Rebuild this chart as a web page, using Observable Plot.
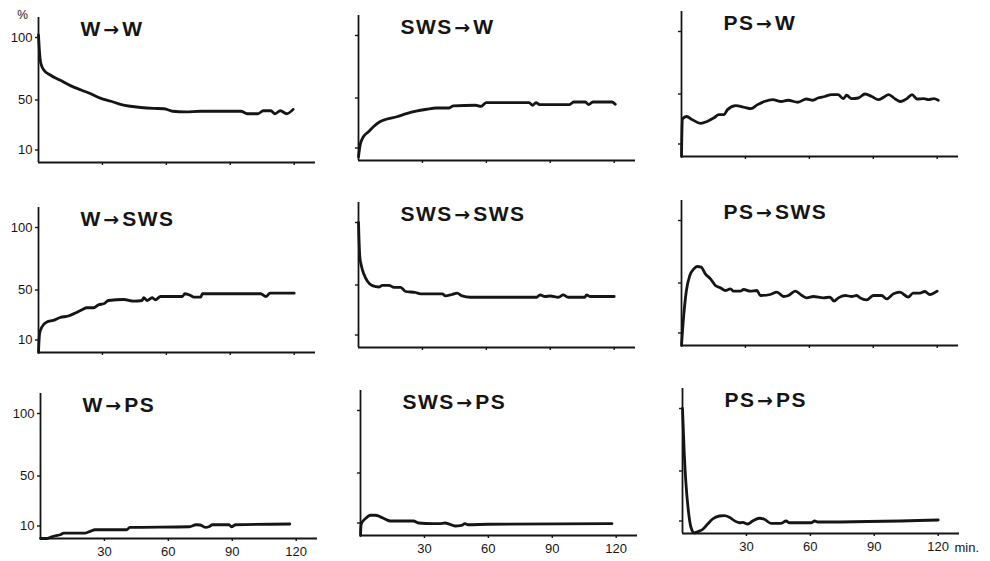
<!DOCTYPE html>
<html>
<head>
<meta charset="utf-8">
<script src="https://cdn.jsdelivr.net/npm/d3@7"></script>
<script src="https://cdn.jsdelivr.net/npm/@observablehq/plot@0.6"></script>
<style>
  html, body { margin: 0; padding: 0; background: #ffffff; }
  #chart { position: relative; width: 990px; height: 561px; overflow: hidden; background: #ffffff; }
  #chart svg { position: absolute; overflow: visible; }
</style>
</head>
<body>
<div id="chart"></div>
<script>
// ---- data (minutes, percent) ----
const titles = ["W→W", "SWS→W", "PS→W", "W→SWS", "SWS→SWS", "PS→SWS", "W→PS", "SWS→PS", "PS→PS"];
const yTicks = [10, 50, 100];
const xTicks = [30, 60, 90, 120];
const unitLabel = "%";
const timeLabel = "min.";

const W_W = [[0,102],[0.5,88],[1,80],[2.5,74],[5.5,70],[10,66],[15,61.5],[20,58],[24.5,55],[29,51.5],[34,49],[38.5,46.5],[43,45],[48,44],[54,43.3],[59,43],[63,41],[69,40.5],[76,41],[85,41],[95,41],[98,39],[103,39],[105.5,41.4],[109,41.4],[111,39],[113.5,41.4],[116.5,39],[119.5,42.5]];
const SWS_W = [[0,3],[0.8,12.5],[2.3,19],[4.7,23],[7,27],[10,31],[13,33],[18,35],[22.5,37.5],[27,39.5],[32,41],[36.5,42],[42.5,42],[44.5,43.7],[55,44.2],[57.5,43.3],[60,46.3],[80,46.3],[81.8,44.2],[83.3,46.3],[85,44.7],[99,44.7],[101,46.8],[106.5,46.8],[108,44.7],[110,46.8],[119,46.8],[120.5,45]];
const PS_W = [[0,0],[0.4,30],[2.4,32],[5,29.5],[9,26.5],[12,28],[15.3,31],[17.6,33.5],[20,33.5],[21.6,37.5],[25.5,40.7],[29.4,39.4],[32.6,38.3],[35.7,41.5],[38.9,44],[42.8,45.5],[46.8,44],[50,45],[54.6,43.4],[58.6,46],[61.7,45],[64,46.8],[67.2,48],[70.4,49.5],[73.5,49.5],[75.9,46.3],[77.5,49],[79.8,46.3],[83,46.8],[86.1,50],[89.3,48],[92.4,45.5],[94.8,47.3],[97.2,49.5],[100.3,46],[102.7,44],[105.8,46.3],[108.2,49.5],[110.6,46],[113.7,46.3],[116,45.5],[118.4,46.3],[120.5,45]];
const W_SWS = [[0,0],[0.5,15],[1.6,20.4],[3.9,24.4],[7,25.7],[10.2,28],[14,29.2],[17.3,31.6],[20.4,34.2],[22.7,35.8],[25.9,35.8],[28.2,38.2],[30.6,39],[32.9,41.6],[40,42.4],[44.7,41.1],[48.6,41.6],[49.4,43.8],[51,41.6],[53.3,43.8],[54.9,42.2],[57.3,44.8],[67.5,44.8],[68.7,47],[71.4,45.6],[72.9,44.3],[76.1,44.3],[76.9,47],[104.3,47],[106.7,44.8],[108.7,47.5],[120,47.5]];
const SWS_SWS = [[0,100],[0.6,73],[1.4,65],[2.6,58.4],[4.2,53],[6.5,49.5],[9.7,48.4],[11.2,49.7],[14.3,49.7],[16.7,48.1],[19.8,48.1],[22.1,44.8],[26.8,44],[29.1,42.9],[39.3,42.9],[40.8,41.3],[43.9,42.4],[46.3,43.5],[48.6,41.3],[52.5,40.2],[83.6,40.2],[85.2,42.1],[87.5,40.8],[90,41.2],[93.8,40.2],[96.1,42.1],[98.4,40.2],[106.2,40.2],[107,42.1],[108.6,40.8],[120,40.8]];
const PS_SWS = [[0,0],[1.1,25],[2.3,44],[3.9,56],[5.8,61.3],[7.3,63.2],[9.2,62.7],[11.2,57.3],[13.6,53.3],[15.9,48],[18.3,46.1],[20.6,44],[22.9,45.3],[24.5,43.5],[27.6,43.5],[29.2,44.8],[32.3,43.5],[35.4,44],[37,40],[41.7,40.8],[44.8,42.7],[47.9,39.2],[50.2,40],[53.4,43.5],[56.5,40],[58.8,38.1],[61.9,39.2],[66.6,38.1],[69.7,38.7],[71.6,35.5],[73.6,38.1],[76.8,40],[79.9,39.2],[82.2,40],[83.8,38.1],[86.9,36.5],[90,40],[93.9,40],[96.3,37.3],[99.4,41.3],[102.5,42.7],[106.4,38.7],[108.7,41.9],[111.9,41.9],[114.2,43.2],[116.5,40.8],[120,43.5]];
const W_PS = [[0,0],[3,0],[4.7,1],[7,2.2],[9.3,3],[10.9,4.3],[21,4.3],[23.3,5.7],[25.6,7],[40.4,7],[41.9,8.9],[69.9,9.4],[73,11],[75,10.8],[77.3,8.9],[79,9.4],[80.7,11],[88.5,11],[89.6,9.4],[91.6,11],[117,11.6]];
const SWS_PS = [[0,0],[0.3,9],[2.3,13.5],[4.7,16.2],[7,16.2],[9.3,14.9],[11.7,13],[14,11.6],[24.9,11.6],[27.2,10],[34.2,9.5],[37,9.5],[39.7,10],[42,8.9],[44.3,7.6],[47.4,8.1],[49,9.5],[50.5,8.6],[60,9],[118,9.5]];
const PS_PS = [[0,100],[0.8,65],[1.6,40.5],[2.7,19],[3.9,5.4],[5.5,0.5],[7.1,1.4],[9.4,3.2],[11.8,7.6],[14.1,11.6],[17.3,14],[19.6,14.3],[22,13],[24.3,10.3],[26.7,8.6],[28.3,8.9],[30.6,7.6],[32.9,10],[36.1,12.2],[38.4,11.4],[41.6,8.1],[46.3,8.1],[48.6,10],[50.2,8.6],[60.4,8.6],[62,10],[63.5,9.2],[120,10.8]];

const series = [W_W, SWS_W, PS_W, W_SWS, SWS_SWS, PS_SWS, W_PS, SWS_PS, PS_PS];

// ---- layout (panel origin in page pixels) ----
const origins = [
  [38,162],[358,160],[681,156],
  [38,352],[358,347],[681,345],
  [40,538],[360,535],[682,533]
];
const mL = 36, mR = 32, mT = 12, mB = 24, W = 277, H = 145;
const ink = "#151515";
const font = "'Liberation Sans', Arial, Helvetica, sans-serif";

const chart = document.getElementById("chart");
series.forEach((data, i) => {
  const col = i % 3, row = Math.floor(i / 3);
  const marks = [
    Plot.ruleY([0], {stroke: ink, strokeWidth: 1.8}),
    Plot.ruleX([0], {stroke: ink, strokeWidth: 1.8}),
    Plot.axisY({ticks: yTicks, tickSize: 3, tickPadding: 3, stroke: ink, strokeWidth: 1.4,
                fill: col === 0 ? ink : "none", fontSize: 13, label: null}),
    Plot.axisX({ticks: xTicks, tickSize: 3, tickPadding: 5, stroke: ink, strokeWidth: 1.4,
                fill: row === 2 ? ink : "none", fontSize: 13, label: null}),
    Plot.line(data, {x: d => d[0], y: d => d[1], stroke: ink, strokeWidth: 2.8, curve: "monotone-x", strokeLinejoin: "round", strokeLinecap: "round"}),
    Plot.text([titles[i]], {frameAnchor: "top-left", dx: 42, dy: 18, lineAnchor: "bottom", textAnchor: "start", fontSize: 21, fontWeight: "bold", fill: ink, fontFamily: font})
  ];
  if (i === 0) {
    marks.push(Plot.text([unitLabel], {frameAnchor: "top-left", dx: -16, dy: -2, lineAnchor: "middle", textAnchor: "middle", fontSize: 12, fill: ink}));
  }
  if (i === 8) {
    marks.push(Plot.text([timeLabel], {frameAnchor: "bottom-right", dx: -5, dy: 14, lineAnchor: "middle", textAnchor: "start", fontSize: 13, fill: ink}));
  }
  const svg = Plot.plot({
    width: mL + W + mR,
    height: mT + H + mB,
    marginLeft: mL, marginRight: mR, marginTop: mT, marginBottom: mB,
    x: {domain: [0, 130]},
    y: {domain: [0, 116]},
    style: {fontFamily: font, fontSize: "13px", background: "transparent", color: ink},
    marks
  });
  // render the arrow of the title with a bolder arrow glyph (still real text)
  svg.querySelectorAll("text").forEach(t => {
    if (t.textContent === titles[i]) {
      const [a, b] = titles[i].split("→");
      t.textContent = "";
      t.setAttribute("letter-spacing", "1.5");
      const ns = "http://www.w3.org/2000/svg";
      const s1 = document.createElementNS(ns, "tspan"); s1.textContent = a;
      const s2 = document.createElementNS(ns, "tspan"); s2.textContent = "→";
      s2.setAttribute("font-family", "'DejaVu Sans', sans-serif");
      s2.setAttribute("font-size", "19");
      s2.setAttribute("dx", "1.5");
      const s3 = document.createElementNS(ns, "tspan"); s3.textContent = b;
      s3.setAttribute("dx", "1.5");
      t.append(s1, s2, s3);
    }
  });
  svg.style.left = (origins[i][0] - mL) + "px";
  svg.style.top = (origins[i][1] - H - mT) + "px";
  chart.appendChild(svg);
});
</script>
</body>
</html>
